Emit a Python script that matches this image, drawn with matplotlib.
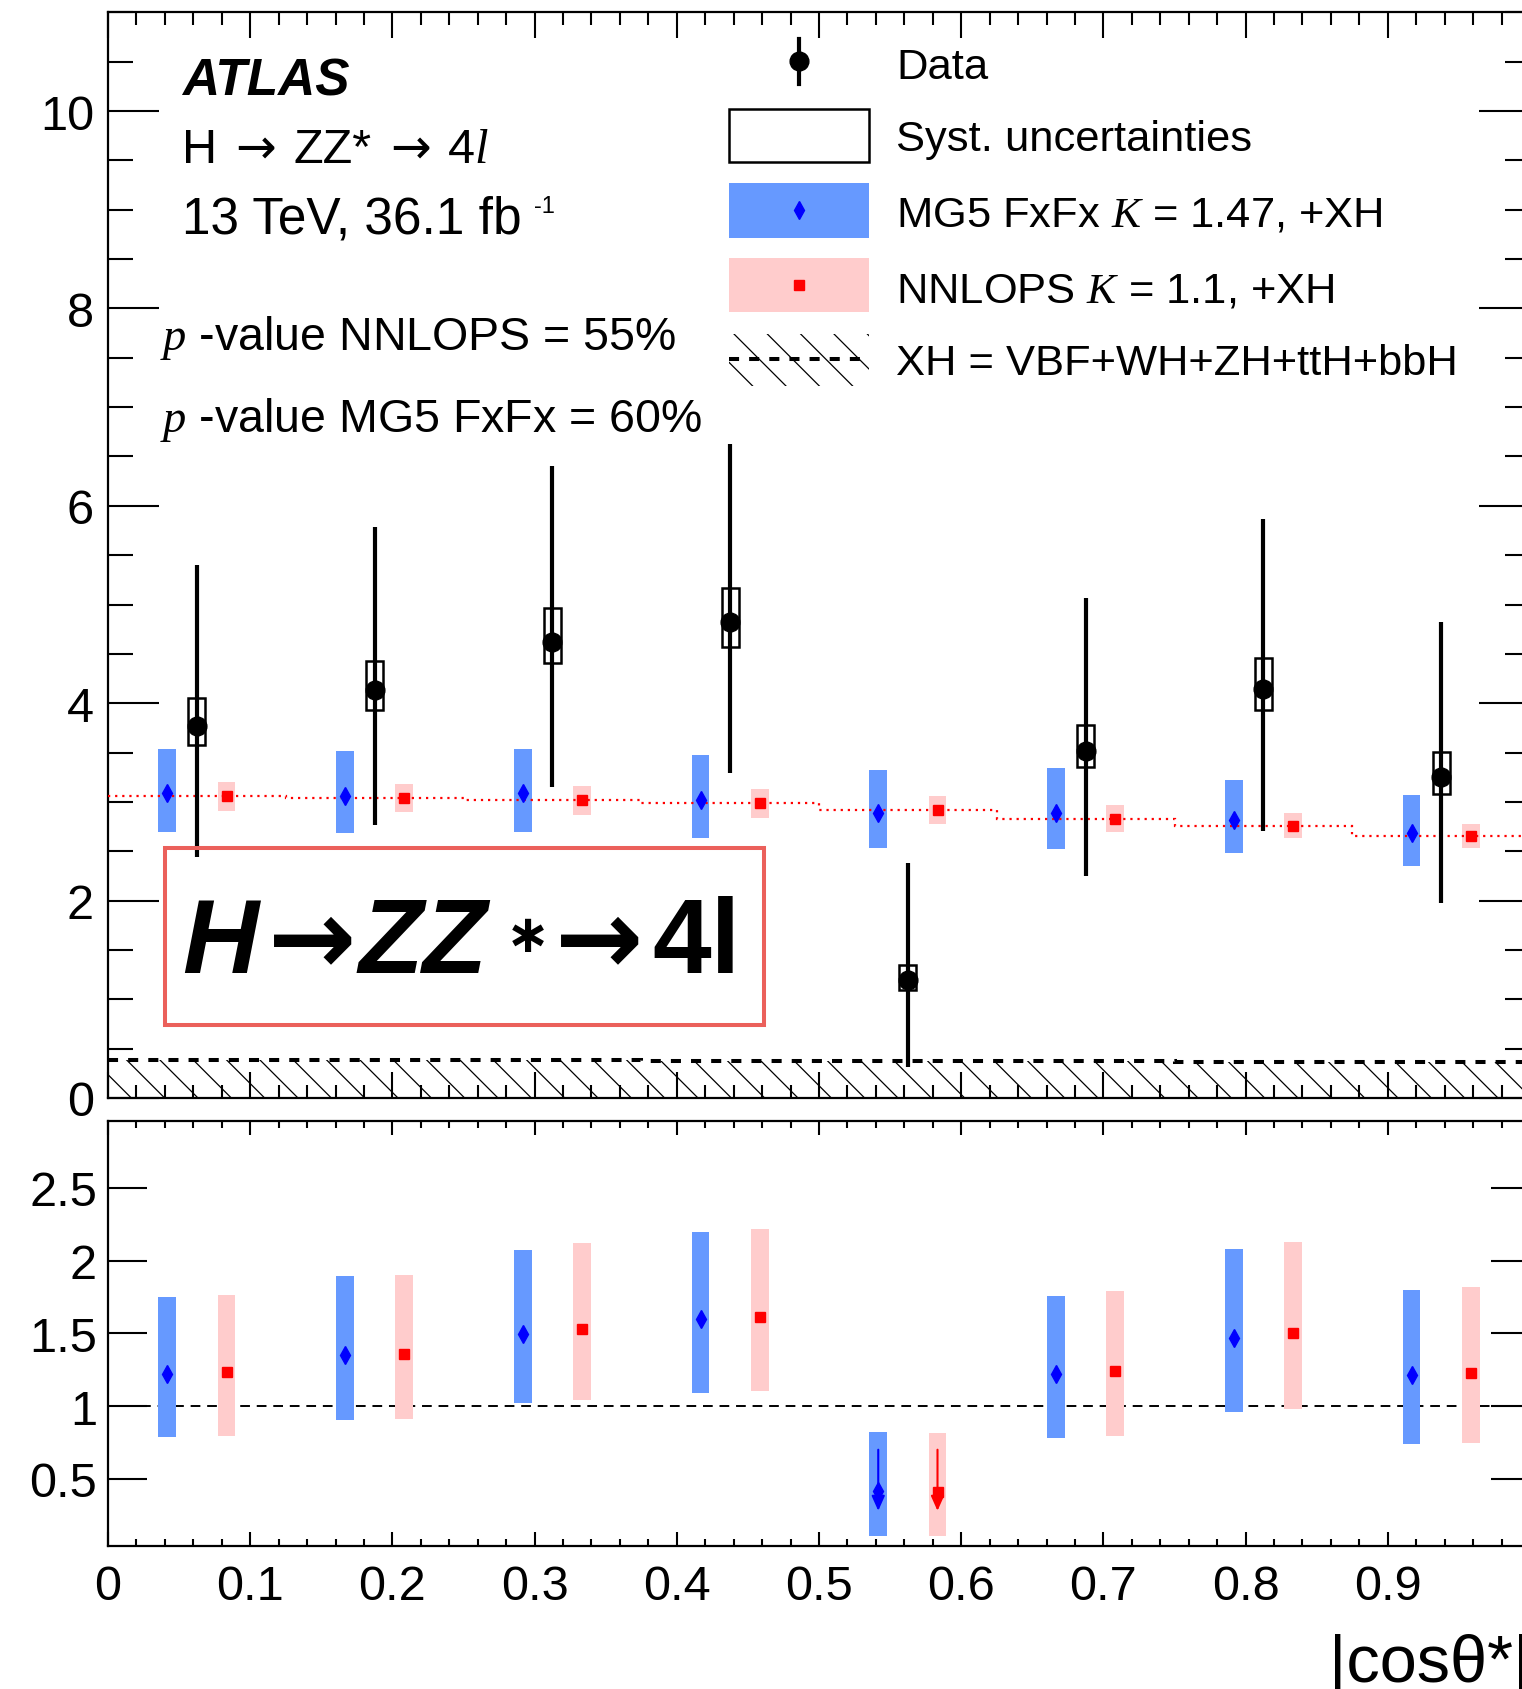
import matplotlib
matplotlib.use("Agg")
import matplotlib.pyplot as plt
import numpy as np
from matplotlib.patches import Rectangle
from matplotlib.lines import Line2D
from matplotlib.ticker import MultipleLocator, FormatStrFormatter, FuncFormatter, NullLocator

plt.rcParams["font.family"] = ["Liberation Sans", "DejaVu Sans"]
plt.rcParams["mathtext.fontset"] = "custom"
plt.rcParams["mathtext.rm"] = "Liberation Sans"
plt.rcParams["mathtext.it"] = "Liberation Serif:italic"
plt.rcParams["mathtext.bf"] = "Liberation Sans:bold"
plt.rcParams["hatch.linewidth"] = 0.9

# |cos theta*| bins
edges = np.linspace(0, 1, 9)

# measured cross section with total and systematic ranges
data = np.array([3.77, 4.13, 4.62, 4.82, 1.20, 3.52, 4.14, 3.25])
data_hi = np.array([5.40, 5.79, 6.40, 6.63, 2.38, 5.07, 5.87, 4.82])
data_lo = np.array([2.44, 2.77, 3.15, 3.29, 0.31, 2.25, 2.71, 1.98])
syst_hi = np.array([4.05, 4.43, 4.96, 5.17, 1.35, 3.78, 4.46, 3.51])
syst_lo = np.array([3.58, 3.93, 4.41, 4.57, 1.09, 3.35, 3.93, 3.08])

# predictions
mg5 = np.array([3.09, 3.06, 3.09, 3.02, 2.89, 2.89, 2.82, 2.68])
mg5_hi = np.array([3.54, 3.52, 3.54, 3.48, 3.32, 3.34, 3.22, 3.07])
mg5_lo = np.array([2.70, 2.68, 2.70, 2.63, 2.53, 2.52, 2.48, 2.35])
nnlops = np.array([3.06, 3.04, 3.02, 2.99, 2.92, 2.83, 2.76, 2.65])
nnlops_hi = np.array([3.20, 3.18, 3.16, 3.13, 3.06, 2.97, 2.89, 2.78])
nnlops_lo = np.array([2.91, 2.90, 2.87, 2.84, 2.78, 2.70, 2.63, 2.53])
xh = np.array([0.385, 0.383, 0.381, 0.379, 0.376, 0.373, 0.369, 0.365])

# ratio points drawn with a downward arrow
arrow_bins = [4]
arrow_top = 0.70
arrow_tip = 0.28

BLUE_BAND = "#6699ff"
PINK_BAND = "#ffcccc"

W, H = 1522, 1690
fig = plt.figure(figsize=(W / 100, H / 100), dpi=100)
ax = fig.add_axes([108 / W, 1 - 1099 / H, 1422 / W, (1099 - 13.3) / H])
rax = fig.add_axes([108 / W, 1 - 1546.7 / H, 1422 / W, (1546.7 - 1122) / H])
renderer = fig.canvas.get_renderer()


def fpos(x, y):
    return x / W, 1 - y / H


bw = edges[1] - edges[0]
xc = edges[:-1] + bw / 2
x_mg5 = edges[:-1] + bw * 2 / 6
x_nn = edges[:-1] + bw * 4 / 6
band_w = 0.0125

# ---- main panel ----
ax.stairs(xh, edges, baseline=0, fill=True, facecolor="none", edgecolor="black",
          hatch="\\", lw=0, zorder=1)
ax.stairs(xh, edges, baseline=None, color="black", ls=(0, (2.5, 2.5)), lw=2.9, zorder=2)

ax.bar(x_mg5, mg5_hi - mg5_lo, bottom=mg5_lo, width=band_w, color=BLUE_BAND, lw=0, zorder=2)
ax.bar(x_nn, nnlops_hi - nnlops_lo, bottom=nnlops_lo, width=band_w, color=PINK_BAND, lw=0, zorder=2)
ax.stairs(nnlops, edges, baseline=None, color="red", ls=(0, (1, 2.2)), lw=1.6, zorder=3)
ax.plot(x_mg5, mg5, ls="none", marker="d", ms=9, color="blue", zorder=4)
ax.plot(x_nn, nnlops, ls="none", marker="s", ms=7, color="red", zorder=4)

ax.vlines(xc, data_lo, data_hi, color="black", lw=3.0, zorder=5)
ax.bar(xc, syst_hi - syst_lo, bottom=syst_lo, width=0.012, fill=False,
       edgecolor="black", lw=1.8, zorder=6)
ax.plot(xc, data, ls="none", marker="o", ms=13.5, color="black", zorder=7)

ax.set_xlim(0, 1)
ax.set_ylim(0, 11)
ax.xaxis.set_major_locator(MultipleLocator(0.1))
ax.xaxis.set_minor_locator(MultipleLocator(0.02))
ax.yaxis.set_major_locator(MultipleLocator(2))
ax.yaxis.set_minor_locator(MultipleLocator(0.5))
ax.tick_params(which="both", direction="in", top=True, right=True, width=1.5)
ax.tick_params(axis="y", which="major", length=36.7, labelsize=35, pad=10)
ax.tick_params(axis="y", which="minor", length=18)
ax.tick_params(axis="x", which="major", length=18.7)
ax.tick_params(axis="x", which="minor", length=9.4)
ax.tick_params(labelbottom=False)

# ---- ratio panel ----
rax.bar(x_mg5, (data_hi - data_lo) / mg5, bottom=data_lo / mg5, width=band_w,
        color=BLUE_BAND, lw=0, zorder=2)
rax.bar(x_nn, (data_hi - data_lo) / nnlops, bottom=data_lo / nnlops, width=band_w,
        color=PINK_BAND, lw=0, zorder=2)
rax.axhline(1, color="black", ls=(0, (5, 3.5)), lw=1.4, zorder=1)
rax.plot(x_mg5, data / mg5, ls="none", marker="d", ms=9, color="blue", zorder=4)
rax.plot(x_nn, data / nnlops, ls="none", marker="s", ms=7, color="red", zorder=4)
for i in arrow_bins:
    for xx, col in ((x_mg5[i], "blue"), (x_nn[i], "red")):
        rax.annotate("", xy=(xx, arrow_tip), xytext=(xx, arrow_top),
                     arrowprops=dict(arrowstyle="-|>,head_length=0.45,head_width=0.2",
                                     color=col, lw=1.5, shrinkA=0, shrinkB=0,
                                     mutation_scale=20), zorder=5)

rax.set_xlim(0, 1)
rax.set_ylim(0.04, 2.96)
rax.xaxis.set_major_locator(MultipleLocator(0.1))
rax.xaxis.set_minor_locator(MultipleLocator(0.02))
# the label at the far end of the axis is not drawn
rax.xaxis.set_major_formatter(FuncFormatter(lambda v, p: "" if v > 0.95 else "%g" % round(v, 2)))
rax.yaxis.set_major_locator(MultipleLocator(0.5))
rax.yaxis.set_minor_locator(NullLocator())
rax.yaxis.set_major_formatter(FormatStrFormatter("%g"))
rax.tick_params(which="both", direction="in", top=True, right=True, width=1.5)
rax.tick_params(axis="x", which="major", length=10, labelsize=35, pad=13)
rax.tick_params(axis="x", which="minor", length=5)
rax.tick_params(axis="y", which="major", length=28, labelsize=35, pad=8)
rax.set_xlabel("|cosθ*|", fontsize=48, loc="right")
rax.xaxis.set_label_coords(1.0, -0.205)

for a in (ax, rax):
    for s in a.spines.values():
        s.set_linewidth(1.6)


def text_run(x, y, pieces):
    """Place text pieces one after another on a common baseline (pixel coords)."""
    for s, gap, kw in pieces:
        x += gap
        t = fig.text(*fpos(x, y), s, va="baseline", **kw)
        x = t.get_window_extent(renderer).x1
    return x


# ---- labels ----
fig.text(*fpos(182, 95), "ATLAS", fontsize=37, fontweight="bold", fontstyle="italic")
arrow_kw = dict(fontsize=35, family=["DejaVu Sans"])
text_run(182, 163, [("H", 0, dict(fontsize=35)),
                    ("→", 18, arrow_kw),
                    ("ZZ*", 18, dict(fontsize=35)),
                    ("→", 18, arrow_kw),
                    ("4$l$", 16, dict(fontsize=35))])
x_end = text_run(182, 233, [("13 TeV, 36.1 fb", 0, dict(fontsize=37))])
fig.text((x_end + 12) / W, 1 - 213 / H, "-1", fontsize=17, va="baseline")
fig.text(*fpos(160, 350), "$p$ -value NNLOPS = 55%", fontsize=33.5)
fig.text(*fpos(160, 432), "$p$ -value MG5 FxFx = 60%", fontsize=33.5)

# ---- legend ----
lx0, lx1 = 729, 869
lxc = (lx0 + lx1) / 2
tx = 896
fig.add_artist(Line2D([lxc / W, lxc / W], [1 - 40 / H, 1 - 85 / H], transform=fig.transFigure,
                      color="black", lw=3.0))
fig.add_artist(Line2D([lxc / W], [1 - 62 / H], transform=fig.transFigure, marker="o",
                      ms=13.5, color="black"))
fig.add_artist(Rectangle(fpos(lx0, 163), (lx1 - lx0) / W, 53 / H, transform=fig.transFigure,
                         fill=False, edgecolor="black", lw=1.8))
fig.add_artist(Rectangle(fpos(lx0, 239), (lx1 - lx0) / W, 55 / H, transform=fig.transFigure,
                         facecolor=BLUE_BAND, lw=0))
fig.add_artist(Line2D([lxc / W], [1 - 211 / H], transform=fig.transFigure, marker="d",
                      ms=9, color="blue"))
fig.add_artist(Rectangle(fpos(lx0, 313), (lx1 - lx0) / W, 54 / H, transform=fig.transFigure,
                         facecolor=PINK_BAND, lw=0))
fig.add_artist(Line2D([lxc / W], [1 - 286 / H], transform=fig.transFigure, marker="s",
                      ms=7, color="red"))
fig.add_artist(Rectangle(fpos(lx0, 387), (lx1 - lx0) / W, 52 / H, transform=fig.transFigure,
                         fill=False, edgecolor="black", hatch="\\", lw=0))
fig.add_artist(Line2D([lx0 / W, lx1 / W], [1 - 360 / H, 1 - 360 / H], transform=fig.transFigure,
                      color="black", lw=2.9, ls=(0, (2.5, 2.5))))

legend_labels = ["Data", "Syst. uncertainties", "MG5 FxFx $K$ = 1.47, +XH",
                 "NNLOPS $K$ = 1.1, +XH", "XH = VBF+WH+ZH+ttH+bbH"]
legend_base = [79, 151, 227, 302, 375]
for lab, yb in zip(legend_labels, legend_base):
    fig.text(*fpos(tx, yb), lab, fontsize=31.3, va="baseline")

# ---- highlighted process label ----
fig.add_artist(Rectangle(fpos(165, 1026), (764 - 165) / W, (1026 - 849) / H,
                         transform=fig.transFigure, fill=False, edgecolor="#eb605b", lw=2.9))
big = 76
fig.text(*fpos(182, 973), "H", fontsize=big, fontweight="bold", fontstyle="italic", va="baseline")
fig.text(*fpos(268, 973), "→", fontsize=big, fontweight="bold", va="baseline",
         family=["DejaVu Sans"])
fig.text(*fpos(358, 973), "ZZ", fontsize=big, fontweight="bold", fontstyle="italic", va="baseline")
fig.text(*fpos(506, 937), "∗", fontsize=38, fontweight="bold", va="center",
         family=["DejaVu Sans"])
fig.text(*fpos(555, 973), "→", fontsize=big, fontweight="bold", va="baseline",
         family=["DejaVu Sans"])
fig.text(*fpos(652, 973), "4l", fontsize=big, fontweight="bold", va="baseline")

fig.savefig("out.png", dpi=100)
